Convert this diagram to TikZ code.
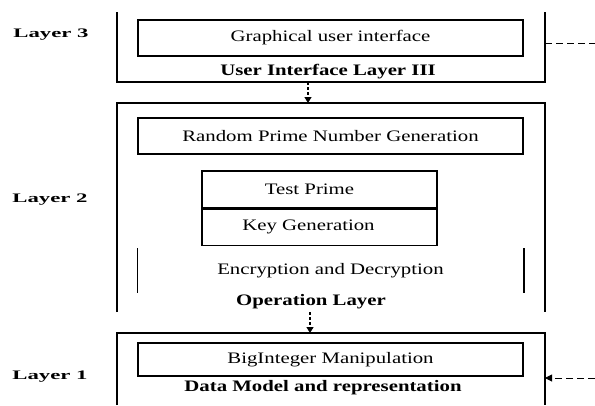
\documentclass[tikz,border=0pt]{standalone}
\usepackage{fontspec}
\setmainfont{Liberation Serif}[FakeStretch=1.3]
\newfontfamily\lyrfont{Liberation Serif}[FakeStretch=1.75]
\usetikzlibrary{arrows.meta,positioning}
\tikzset{
  keret/.style={line width=1.5pt},
  belso/.style={draw,line width=1.3pt,inner sep=0pt,minimum width=385pt,minimum height=36pt,font=\fontsize{16}{18}\selectfont},
  cim/.style={font=\fontsize{16}{18}\selectfont\bfseries},
  szint/.style={font=\lyrfont\fontsize{13}{15}\selectfont\bfseries},
  szagg/.style={line width=1pt,dash pattern=on 7pt off 4pt},
  lenyil/.style={line width=1.2pt,dash pattern=on 3pt off 2pt,-{Triangle[length=6pt,width=7pt]}},
}
\begin{document}
\begin{tikzpicture}[x=1pt,y=-1pt]
  \useasboundingbox (0,0) rectangle (595,405);
  % layer 3
  \draw[keret] (117,12) |- (545,82) -- (545,12);
  \node[belso] (gui) at (330.5,38) {Graphical user interface};
  \node[cim] (t3) at (328,72) {User Interface Layer III};
  \node[szint] (l3) at (51,35) {Layer 3};
  \coordinate (r3) at (545,43); \coordinate (r3e) at (595,43);
  \draw[szagg] (r3) -- (r3e);
  % layer 2
  \draw[keret] (117,312) |- (545,103) -- (545,312);
  \node[belso] (rpn) at (330.5,136) {Random Prime Number Generation};
  \node[belso,minimum width=235pt,minimum height=37pt] (tp) at (319.5,189.5) {Test Prime\hspace*{20pt}};
  \node[belso,minimum width=235pt,minimum height=36pt,below=0pt of tp] (kg) {Key Generation\hspace*{22pt}};
  \node[belso,draw=none,minimum height=43pt] (enc) at (330.5,270.5) {Encryption and Decryption};
  \draw[line width=1.7pt] (enc.north west) -- (enc.south west);
  \draw[line width=1.7pt] (enc.north east) -- (enc.south east);
  \node[cim] (t2) at (311,302) {Operation Layer};
  \node[szint] (l2) at (50,200) {Layer 2};
  % layer 1
  \draw[keret] (117,405) |- (545,333) -- (545,405);
  \node[belso,minimum height=33pt] (bim) at (330.5,359.5) {BigInteger Manipulation};
  \node[cim] (t1) at (323,388) {Data Model and representation};
  \node[szint] (l1) at (50,377) {Layer 1};
  \coordinate (r1) at (545,378); \coordinate (r1e) at (595,378);
  \draw[szagg,-{Triangle[length=7pt,width=7pt]}] (r1e) -- (r1);
  % arrows between layers
  \coordinate (a3) at (308,82); \coordinate (a2) at (308,103);
  \coordinate (b2) at (310,312); \coordinate (b1) at (310,333);
  \draw[lenyil] (a3) -- (a2);
  \draw[lenyil] (b2) -- (b1);
\end{tikzpicture}
\end{document}
